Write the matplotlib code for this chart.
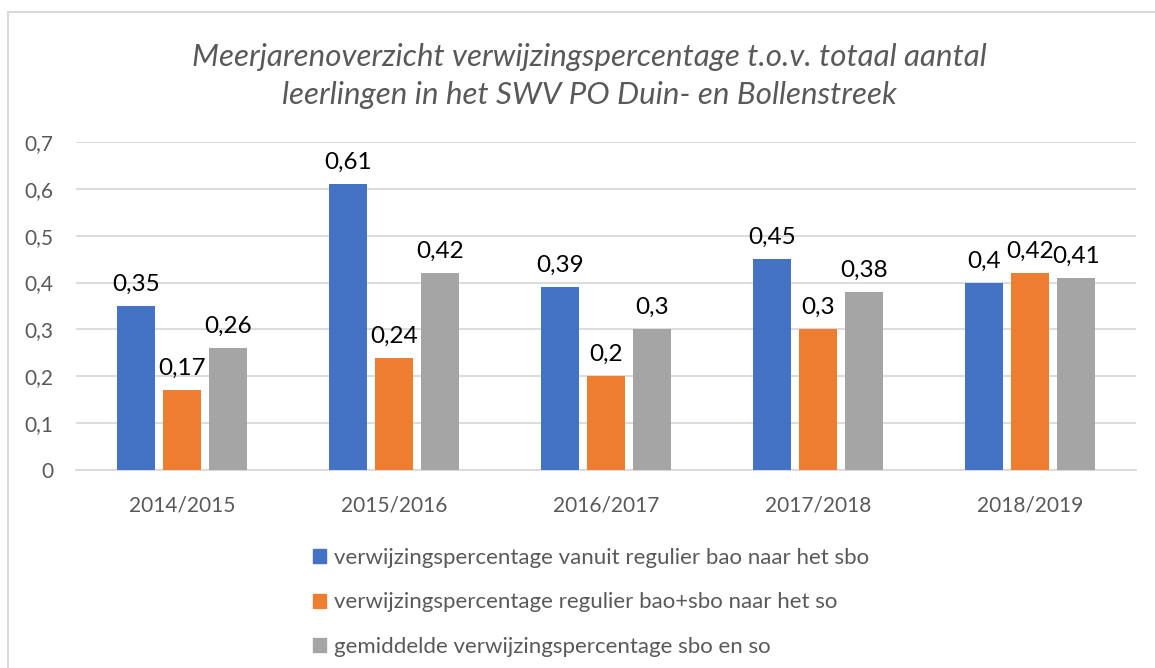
import matplotlib.pyplot as plt
import matplotlib.patches as mpatches
import numpy as np

plt.rcParams["font.family"] = ["Lato", "DejaVu Sans"]

years = ["2014/2015", "2015/2016", "2016/2017", "2017/2018", "2018/2019"]
bao_sbo = [0.35, 0.61, 0.39, 0.45, 0.4]
bao_sbo_so = [0.17, 0.24, 0.2, 0.3, 0.42]
gemiddeld = [0.26, 0.42, 0.3, 0.38, 0.41]
labels = [
    "verwijzingspercentage vanuit regulier bao naar het sbo",
    "verwijzingspercentage regulier bao+sbo naar het so",
    "gemiddelde verwijzingspercentage sbo en so",
]
colors = ["#4472C4", "#ED7D31", "#A5A5A5"]
text_grey = "#595959"

fig = plt.figure(figsize=(11.55, 6.68), dpi=100)
ax = fig.add_axes([76 / 1155, 1 - 470 / 668, 1060 / 1155, 328 / 668])

x = np.arange(len(years))
slot = 0.217
width = 0.175
for i, (vals, lab, col) in enumerate(zip([bao_sbo, bao_sbo_so, gemiddeld], labels, colors)):
    bars = ax.bar(x + (i - 1) * slot, vals, width, color=col, label=lab, zorder=3)
    ax.bar_label(bars, labels=[f"{v:g}".replace(".", ",") for v in vals],
                 padding=8, fontsize=17.5, color="black")

ax.set_xlim(-0.5, len(years) - 0.5)
ax.set_ylim(0, 0.7)
ax.set_yticks(np.arange(0, 0.71, 0.1))
ax.set_yticklabels(["0"] + [f"0,{k}" for k in range(1, 8)])
ax.set_xticks(x)
ax.set_xticklabels(years)
ax.tick_params(axis="both", length=0, labelsize=15, colors=text_grey)
ax.tick_params(axis="x", pad=18)
ax.tick_params(axis="y", pad=16)
ax.grid(axis="y", color="#D9D9D9", linewidth=1.3, zorder=0)
for s in ["top", "right", "left"]:
    ax.spines[s].set_visible(False)
ax.spines["bottom"].set_color("#D9D9D9")
ax.spines["bottom"].set_linewidth(1.3)

fig.text(0.51, 1 - 76 / 668,
         "Meerjarenoverzicht verwijzingspercentage t.o.v. totaal aantal\nleerlingen in het SWV PO Duin- en Bollenstreek",
         ha="center", va="center", fontsize=22.5, style="italic", color=text_grey,
         linespacing=1.4)

handles = [mpatches.Patch(color=c) for c in colors]
fig.legend(handles, labels, loc="upper left", bbox_to_anchor=(293 / 1155, 1 - 528 / 668),
           frameon=False, fontsize=16, labelcolor=text_grey, handlelength=0.6,
           handleheight=0.6, handletextpad=0.35, labelspacing=1.1)

# chart area border
fig.patches.append(mpatches.Rectangle((8 / 1155, -0.1), 1.2, 1 - 12 / 668 + 0.1,
                                      transform=fig.transFigure, fill=False,
                                      edgecolor="#D9D9D9", linewidth=1.5))

fig.savefig("out.png", dpi=100)
